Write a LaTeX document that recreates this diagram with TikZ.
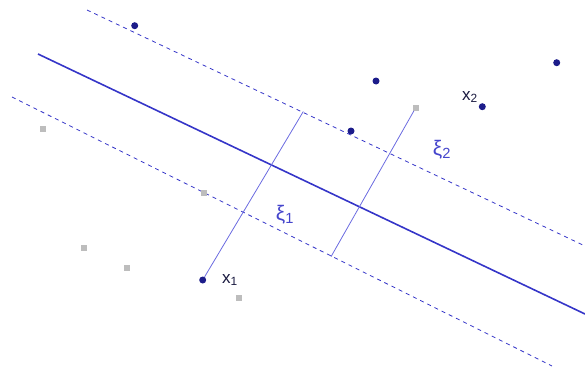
\documentclass[tikz,border=0pt]{standalone}
\usepackage{fontspec}
\setmainfont{Liberation Sans}
\usepackage{tikz}
\definecolor{PointNavy}{HTML}{1C1C8A}
\definecolor{LineBlue}{HTML}{3535C8}
\definecolor{SlackBlue}{HTML}{6B6BE0}
\definecolor{LabelBlue}{HTML}{4545CC}
\definecolor{LabelDark}{HTML}{1A1A40}
\definecolor{PointGray}{HTML}{BDBDBD}

\begin{document}
\begin{tikzpicture}[x=1pt,y=-1pt, every node/.style={font=\fontsize{17}{19}\selectfont, color=LabelDark}]
  \useasboundingbox (0,0) rectangle (585,369);
  \tikzset{
    posdot/.style={circle, fill=PointNavy, inner sep=0pt, minimum size=7pt},
    negdot/.style={rectangle, fill=PointGray, inner sep=0pt, minimum size=6pt},
    marginline/.style={LineBlue, line width=0.8pt, dash pattern=on 4pt off 4pt},
    slackline/.style={SlackBlue, line width=0.8pt},
    slacklabel/.style={color=LabelBlue, font=\fontsize{21}{23}\selectfont}
  }
  % hyperplane and margins
  \coordinate (h0) at (38,54);
  \coordinate (h1) at (585,314);
  \coordinate (u0) at (87,10);
  \coordinate (u1) at (585,246);
  \coordinate (l0) at (12,97);
  \coordinate (l1) at (552,366);
  \draw[LineBlue, line width=1.6pt] (h0) -- (h1);
  \draw[marginline] (u0) -- (u1);
  \draw[marginline] (l0) -- (l1);
  % positive class
  \node[posdot] (p1) at (134.7,25.7) {};
  \node[posdot] (p2) at (376,81) {};
  \node[posdot] (p3) at (351,131) {};
  \node[posdot] (p4) at (482.3,106.7) {};
  \node[posdot] (p5) at (556.7,62.7) {};
  \node[posdot] (x1) at (202.7,280) {};
  % negative class
  \node[negdot] (n1) at (43.3,129.3) {};
  \node[negdot] (n2) at (204,192.5) {};
  \node[negdot] (n3) at (84.3,248.3) {};
  \node[negdot] (n4) at (127.3,267.7) {};
  \node[negdot] (n5) at (239.3,298.3) {};
  \node[negdot] (x2n) at (415.7,107.7) {};
  % slack distances
  \coordinate (m1) at (303.3,111.5);
  \coordinate (m2) at (331,256.7);
  \draw[slackline] (x1) -- (m1);
  \draw[slackline] (x2n) -- (m2);
  \node (lx1) at (230,280) {x\textsubscript{1}};
  \node (lx2) at (470,97) {x\textsubscript{2}};
  \node[slacklabel] (xi1) at (285,215) {ξ\textsubscript{1}};
  \node[slacklabel] (xi2) at (442,150) {ξ\textsubscript{2}};
\end{tikzpicture}
\end{document}
